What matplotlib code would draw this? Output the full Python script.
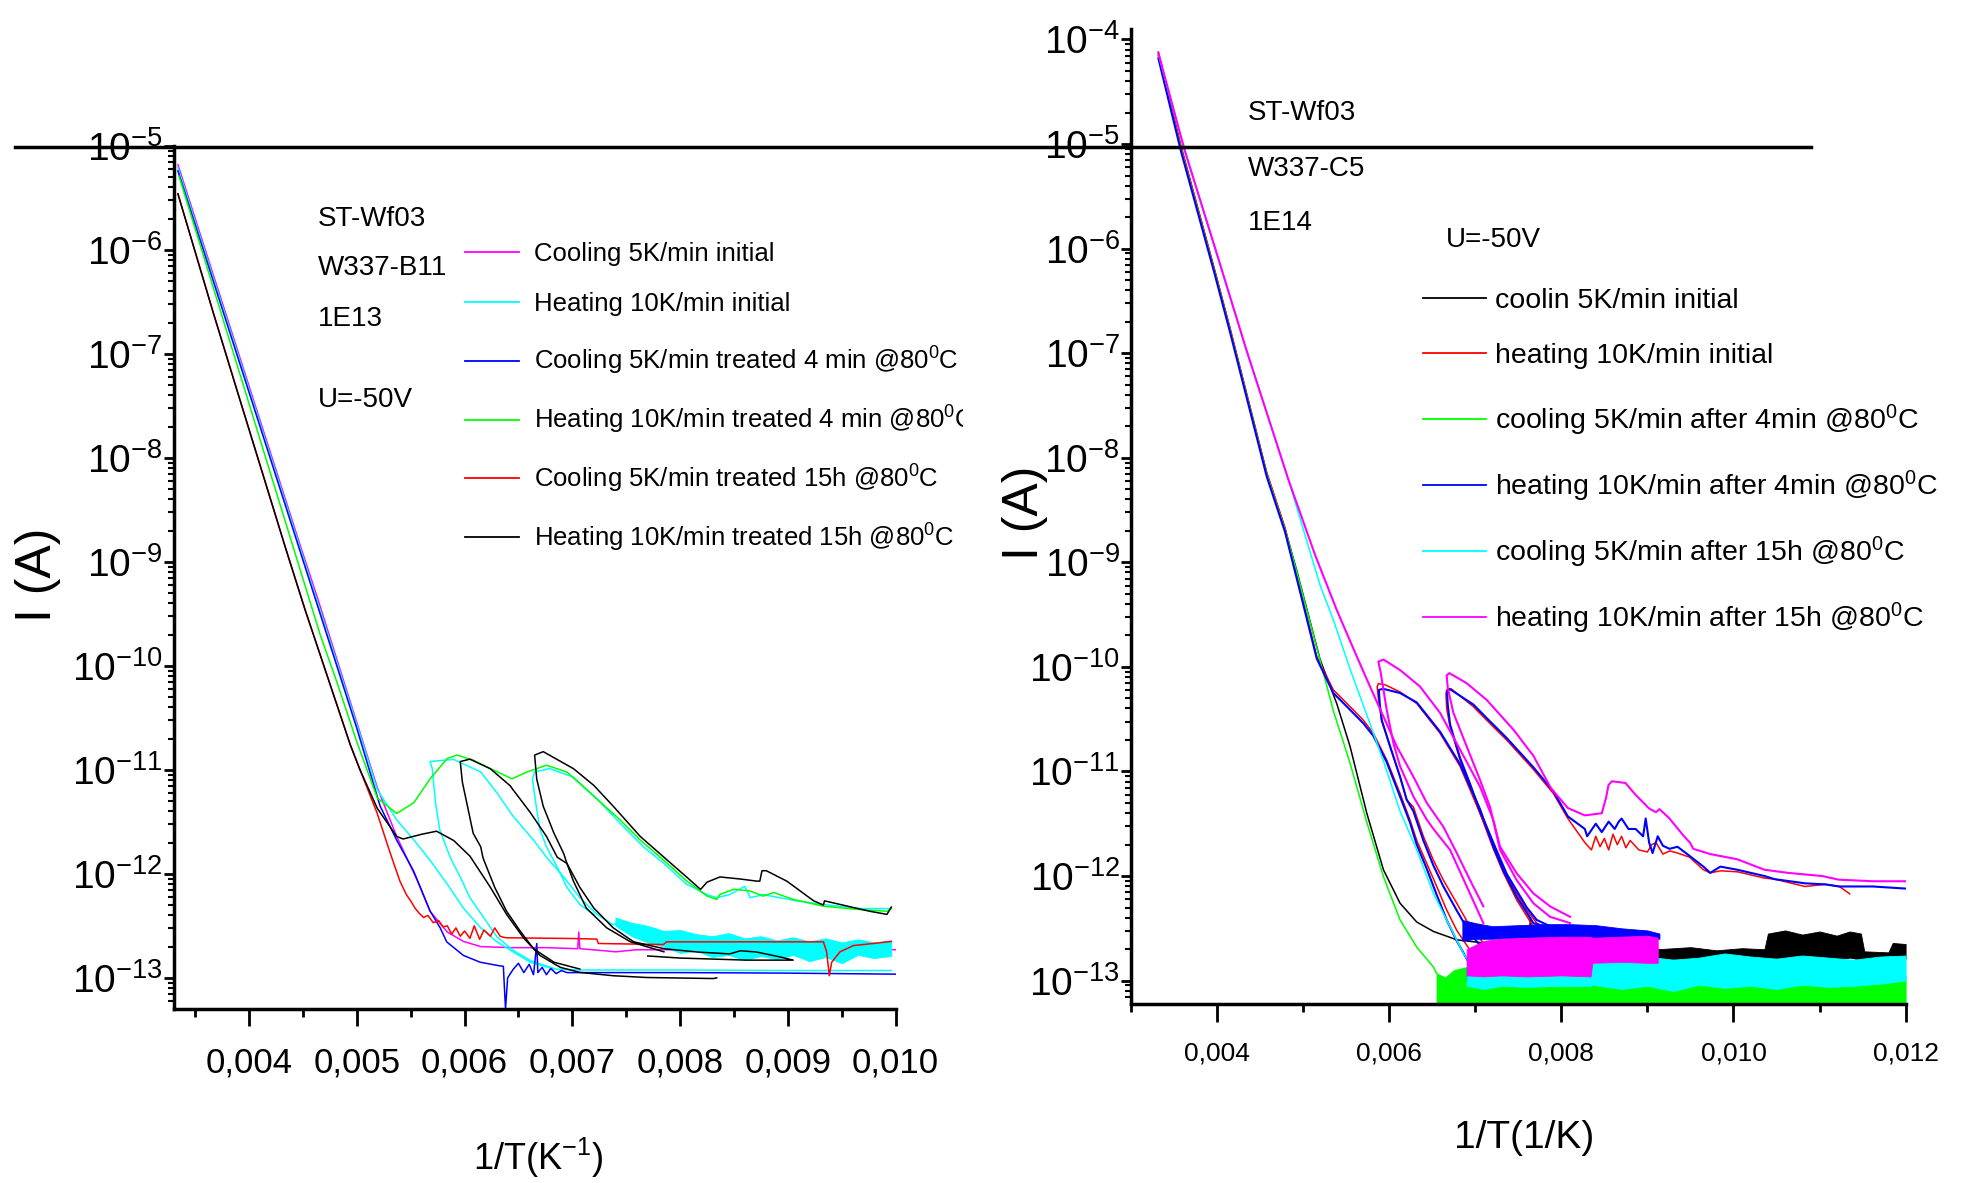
import numpy as np
import matplotlib
matplotlib.use("Agg")
import matplotlib.pyplot as plt
from matplotlib.lines import Line2D
from matplotlib.transforms import Bbox, TransformedBbox
from matplotlib.ticker import LogLocator, FixedLocator, NullFormatter

# values: (1/T in 1/K, log10 of I in A)
# every series is a list of segments, a segment is a list of points

# ---------- left plot: W337-B11, 1E13 ----------
left_magenta = [[(0.00334, -5.18), (0.00449, -8.89), (0.00463, -9.33), (0.00502, -10.61), (0.00519, -11.17),
                 (0.00537, -11.64), (0.00556, -12.06), (0.00568, -12.36), (0.00584, -12.56), (0.00599, -12.65),
                 (0.00615, -12.70), (0.00645, -12.71), (0.00676, -12.71), (0.00705, -12.72), (0.00706, -12.56),
                 (0.00707, -12.72), (0.00730, -12.74), (0.00740, -12.75), (0.00760, -12.73), (0.00850, -12.73),
                 (0.00950, -12.72), (0.01000, -12.73)]]

left_cyan = [[(0.00334, -5.21), (0.00449, -8.92), (0.00502, -10.63), (0.00519, -11.19), (0.00537, -11.48),
              (0.00553, -11.675), (0.00568, -11.87), (0.00584, -12.10), (0.00599, -12.33), (0.00615, -12.52),
              (0.00630, -12.654), (0.00645, -12.75), (0.00661, -12.85), (0.00683, -12.916), (0.00707, -12.925),
              (0.00800, -12.925), (0.00900, -12.93), (0.00996, -12.93)],
             [(0.00683, -12.91), (0.00661, -12.834), (0.00645, -12.735), (0.00630, -12.605), (0.00618, -12.425),
              (0.00605, -12.23), (0.00596, -12.03), (0.00588, -11.87), (0.00584, -11.77), (0.00577, -11.577),
              (0.00573, -11.315), (0.00570, -10.988), (0.00568, -10.92), (0.00578, -10.91), (0.00590, -10.90),
              (0.00615, -11.02), (0.00630, -11.22), (0.00645, -11.446), (0.00664, -11.675), (0.00676, -11.84),
              (0.00692, -12.03), (0.00707, -12.23), (0.00723, -12.39), (0.00738, -12.49), (0.00744, -12.46)],
             [(0.00720, -12.39), (0.00707, -12.295), (0.00695, -12.13), (0.00686, -11.936), (0.00676, -11.74),
              (0.00670, -11.577), (0.00666, -11.315), (0.00663, -11.086), (0.00665, -11.02), (0.00679, -10.988),
              (0.00701, -11.07), (0.00723, -11.28), (0.00744, -11.51), (0.00766, -11.74), (0.00785, -11.90),
              (0.00806, -12.10), (0.00825, -12.20), (0.00834, -12.23), (0.00846, -12.20), (0.00860, -12.12),
              (0.00863, -12.18), (0.00865, -12.23), (0.00877, -12.20), (0.00908, -12.26), (0.00933, -12.295),
              (0.00967, -12.334), (0.00996, -12.334)]]
# noisy part of the cyan trace: (x, upper, lower)
left_cyan_band = [(0.00740, -12.42, -12.50), (0.00755, -12.47, -12.60), (0.00770, -12.50, -12.66),
                  (0.00785, -12.55, -12.70), (0.00800, -12.54, -12.76), (0.00815, -12.58, -12.74),
                  (0.00830, -12.60, -12.80), (0.00845, -12.57, -12.78), (0.00860, -12.62, -12.83),
                  (0.00875, -12.60, -12.79), (0.00890, -12.64, -12.82), (0.00905, -12.61, -12.78),
                  (0.00920, -12.65, -12.84), (0.00935, -12.62, -12.80), (0.00950, -12.66, -12.86),
                  (0.00965, -12.63, -12.78), (0.00980, -12.66, -12.81), (0.00996, -12.64, -12.79)]

left_blue = [[(0.00334, -5.24), (0.00449, -8.95), (0.00500, -10.60), (0.005217, -11.35), (0.005372, -11.68),
              (0.005526, -11.97), (0.005681, -12.36), (0.005774, -12.52), (0.005835, -12.655), (0.00599, -12.785),
              (0.006145, -12.85), (0.00630, -12.88), (0.00636, -12.89), (0.00638, -13.30), (0.00640, -13.00),
              (0.00645, -12.92), (0.00650, -12.86), (0.00655, -12.95), (0.00660, -12.87), (0.00664, -12.97),
              (0.00667, -12.67), (0.00668, -12.95), (0.00672, -12.90), (0.00676, -12.97), (0.00680, -12.91),
              (0.00685, -12.96), (0.00690, -12.93), (0.00695, -12.95), (0.00700, -12.95), (0.00800, -12.95),
              (0.00900, -12.955), (0.01000, -12.965)]]

left_green = [[(0.00335, -5.29), (0.00466, -9.70), (0.00482, -10.17), (0.00500, -10.73), (0.00519, -11.27),
               (0.00537, -11.42), (0.00553, -11.315), (0.00568, -11.086), (0.00584, -10.89), (0.00593, -10.858),
               (0.00608, -10.907), (0.00624, -10.988), (0.00644, -11.086), (0.00658, -11.021), (0.00676, -10.955),
               (0.00695, -11.021), (0.00723, -11.282), (0.00744, -11.478), (0.00763, -11.675), (0.00785, -11.871),
               (0.00806, -12.067), (0.00825, -12.214), (0.00834, -12.246), (0.00837, -12.197), (0.00850, -12.148),
               (0.00865, -12.165), (0.00877, -12.214), (0.00887, -12.18), (0.00905, -12.246), (0.00933, -12.311),
               (0.00967, -12.344), (0.00992, -12.36), (0.00996, -12.334)]]

left_red = [[(0.00334, -5.46), (0.00367, -6.61), (0.00393, -7.49), (0.00434, -8.87), (0.00452, -9.46),
             (0.00494, -10.76), (0.00503, -11.00), (0.00519, -11.42), (0.00531, -11.80), (0.00540, -12.07),
             (0.00546, -12.20), (0.00550, -12.26), (0.00554, -12.33), (0.00558, -12.38), (0.00562, -12.42),
             (0.00566, -12.40), (0.00571, -12.47), (0.00576, -12.45), (0.00580, -12.51), (0.00584, -12.50),
             (0.00588, -12.58), (0.00592, -12.52), (0.00596, -12.60), (0.00600, -12.55), (0.00605, -12.62),
             (0.00609, -12.50), (0.00614, -12.63), (0.00618, -12.54), (0.00624, -12.60), (0.00628, -12.52),
             (0.00633, -12.60), (0.00636, -12.61), (0.00639, -12.615), (0.00700, -12.622), (0.007227, -12.628),
             (0.007242, -12.67), (0.007845, -12.68), (0.007876, -12.654), (0.00933, -12.654), (0.00936, -12.75),
             (0.009385, -12.98), (0.009407, -12.85), (0.009484, -12.75), (0.009608, -12.69), (0.009793, -12.67),
             (0.00996, -12.65)]]

left_black = [[(0.00334, -5.46), (0.00367, -6.61), (0.00393, -7.49), (0.00434, -8.87), (0.00452, -9.46),
               (0.00494, -10.76), (0.00503, -11.00), (0.00519, -11.37), (0.00537, -11.64), (0.00543, -11.665),
               (0.00560, -11.62), (0.00574, -11.59), (0.00590, -11.68), (0.00605, -11.83), (0.00624, -12.13),
               (0.00639, -12.39), (0.00655, -12.62), (0.00670, -12.785), (0.00689, -12.90), (0.00707, -12.948),
               (0.00738, -12.98), (0.00769, -12.997), (0.00831, -13.007), (0.00834, -13.00)],
              [(0.00707, -12.916), (0.00683, -12.85), (0.00664, -12.72), (0.00652, -12.556), (0.00639, -12.36),
               (0.00628, -12.13), (0.00618, -11.87), (0.00617, -11.84), (0.00615, -11.74), (0.00608, -11.61),
               (0.00602, -11.315), (0.00598, -11.12), (0.00596, -10.92), (0.00605, -10.897), (0.00624, -10.99),
               (0.00642, -11.15), (0.00661, -11.41), (0.00676, -11.64), (0.00686, -11.84), (0.00695, -11.90),
               (0.00707, -12.13), (0.00720, -12.33), (0.00738, -12.52), (0.00757, -12.654), (0.00785, -12.72),
               (0.00816, -12.752), (0.00846, -12.77), (0.00856, -12.74), (0.00871, -12.752), (0.00893, -12.80),
               (0.00905, -12.83), (0.00862, -12.83), (0.00800, -12.81), (0.00770, -12.79)],
              [(0.00785, -12.75), (0.00754, -12.654), (0.00732, -12.52), (0.00713, -12.33), (0.00701, -12.07),
               (0.00695, -11.90), (0.00692, -11.805), (0.00683, -11.61), (0.00673, -11.35), (0.00667, -11.09),
               (0.00665, -10.858), (0.00673, -10.825), (0.00701, -10.988), (0.00720, -11.15), (0.00738, -11.35),
               (0.00763, -11.64), (0.00785, -11.84), (0.00806, -12.03), (0.00819, -12.15), (0.00825, -12.08),
               (0.00837, -12.03), (0.00856, -12.05), (0.00871, -12.07), (0.00874, -12.07), (0.00876, -11.97),
               (0.00880, -11.97), (0.00899, -12.07), (0.00924, -12.26), (0.00933, -12.30), (0.00934, -12.26),
               (0.00955, -12.31), (0.00976, -12.36), (0.00992, -12.39), (0.00996, -12.32)]]

# ---------- right plot: W337-C5, 1E14 ----------
right_black = [[(0.003318, -4.15), (0.003581, -5.03), (0.003968, -6.20), (0.004151, -6.77), (0.004577, -8.15),
                (0.004790, -8.68), (0.004926, -9.08), (0.005197, -9.93), (0.005390, -10.35), (0.005545, -10.76),
                (0.005740, -11.40), (0.005933, -11.94), (0.006126, -12.26), (0.006320, -12.44), (0.006514, -12.53),
                (0.006785, -12.61), (0.00720, -12.65), (0.00725, -13.2), (0.00726, -12.66), (0.00750, -12.67),
                (0.00763, -12.66), (0.00764, -12.40), (0.00765, -12.66), (0.00800, -12.67), (0.00850, -12.68),
                (0.00912, -12.70)]]
right_black_band = [(0.00912, -12.70, -12.79), (0.00950, -12.68, -12.80), (0.00980, -12.71, -12.79),
                    (0.01010, -12.69, -12.81), (0.01036, -12.70, -12.79), (0.01040, -12.55, -12.80),
                    (0.01060, -12.52, -12.78), (0.01080, -12.56, -12.81), (0.01100, -12.53, -12.79),
                    (0.01120, -12.57, -12.80), (0.01135, -12.53, -12.78), (0.01148, -12.55, -12.80),
                    (0.01152, -12.72, -12.79), (0.01180, -12.73, -12.80), (0.01185, -12.64, -12.78),
                    (0.01200, -12.65, -12.79)]

right_red = [[(0.003318, -4.12), (0.003581, -5.02), (0.003968, -6.19), (0.004151, -6.76), (0.004577, -8.14),
              (0.004790, -8.67), (0.004964, -9.26), (0.005158, -9.90), (0.005351, -10.22), (0.005545, -10.38),
              (0.005700, -10.51), (0.005816, -10.635), (0.005971, -10.89), (0.006126, -11.21), (0.006242, -11.464),
              (0.006320, -11.66), (0.006436, -11.88), (0.006552, -12.10), (0.006668, -12.325), (0.006785, -12.52),
              (0.006940, -12.71), (0.007094, -12.80)],
             [(0.007094, -12.64), (0.006940, -12.485), (0.006785, -12.26), (0.006630, -12.04), (0.006514, -11.85),
              (0.006397, -11.62), (0.006281, -11.34), (0.006203, -11.27), (0.006126, -11.05), (0.006010, -10.76),
              (0.005913, -10.51), (0.005874, -10.30), (0.005860, -10.19), (0.005874, -10.16), (0.005950, -10.17),
              (0.006126, -10.24), (0.006320, -10.35), (0.006591, -10.635), (0.006823, -10.95), (0.007055, -11.40),
              (0.007210, -11.74), (0.007327, -11.97), (0.007482, -12.23), (0.007675, -12.485), (0.007869, -12.58),
              (0.008101, -12.64)],
             [(0.008101, -12.55), (0.007869, -12.52), (0.007714, -12.45), (0.007598, -12.325), (0.007482, -12.166),
              (0.007366, -12.006), (0.007250, -11.78), (0.007133, -11.55), (0.007055, -11.40), (0.006940, -11.145),
              (0.006823, -10.89), (0.006707, -10.57), (0.006668, -10.40), (0.006660, -10.26), (0.006668, -10.22),
              (0.006720, -10.21), (0.006978, -10.38), (0.007133, -10.51), (0.007365, -10.70), (0.007675, -10.98),
              (0.007907, -11.21), (0.008076, -11.45), (0.008273, -11.68), (0.00835, -11.75), (0.00840, -11.62),
              (0.00845, -11.72), (0.00850, -11.64), (0.00855, -11.75), (0.00860, -11.60), (0.00865, -11.70),
              (0.00870, -11.62), (0.00875, -11.73), (0.00880, -11.66), (0.00890, -11.75), (0.00900, -11.77),
              (0.00905, -11.70), (0.00910, -11.68), (0.00918, -11.79), (0.00926, -11.76), (0.00935, -11.78),
              (0.00949, -11.82), (0.00965, -11.94), (0.00973, -11.97), (0.00985, -11.95), (0.01005, -11.96),
              (0.01036, -12.02), (0.01048, -12.03), (0.01083, -12.10), (0.01107, -12.08), (0.01123, -12.10),
              (0.01135, -12.17)]]

right_green = [[(0.003318, -4.16), (0.003581, -5.05), (0.003968, -6.21), (0.004151, -6.78), (0.004577, -8.16),
                (0.004790, -8.69), (0.004926, -9.09), (0.005197, -9.94), (0.005351, -10.42), (0.005545, -10.92),
                (0.005738, -11.48), (0.005933, -12.006), (0.006126, -12.42), (0.006320, -12.68), (0.006514, -12.87),
                (0.006550, -12.93)]]
right_green_band = [(0.00655, -12.93, -13.4), (0.00665, -12.97, -13.4), (0.00675, -12.90, -13.4),
                    (0.00690, -12.87, -13.4), (0.00700, -12.98, -13.4), (0.00710, -13.04, -13.4),
                    (0.00725, -12.98, -13.4), (0.00740, -13.02, -13.4), (0.00760, -13.00, -13.4),
                    (0.00780, -13.03, -13.4), (0.00800, -12.98, -13.4), (0.00830, -13.02, -13.4),
                    (0.00860, -13.00, -13.4), (0.00890, -12.97, -13.4), (0.00920, -13.03, -13.4),
                    (0.00950, -13.00, -13.4), (0.00980, -12.98, -13.4), (0.01010, -13.02, -13.4),
                    (0.01040, -13.00, -13.4), (0.01070, -12.97, -13.4), (0.01100, -13.01, -13.4),
                    (0.01130, -12.99, -13.4), (0.01160, -12.98, -13.4), (0.01200, -12.95, -13.4)]

right_blue = [[(0.003318, -4.18), (0.003581, -5.07), (0.003968, -6.23), (0.004151, -6.80), (0.004577, -8.18),
               (0.004790, -8.71), (0.004964, -9.28), (0.005158, -9.92), (0.005351, -10.25), (0.005545, -10.41),
               (0.005700, -10.54), (0.005816, -10.66), (0.005971, -10.91), (0.006126, -11.24), (0.006242, -11.49),
               (0.006320, -11.70), (0.006436, -11.93), (0.006552, -12.18), (0.006668, -12.42), (0.006785, -12.62),
               (0.006940, -12.85), (0.007094, -12.93)],
              [(0.007094, -12.70), (0.006940, -12.55), (0.006785, -12.33), (0.006630, -12.10), (0.006514, -11.90),
               (0.006397, -11.66), (0.006281, -11.38), (0.006203, -11.27), (0.006126, -11.05), (0.006010, -10.76),
               (0.005913, -10.51), (0.005890, -10.35), (0.005880, -10.22), (0.005930, -10.21), (0.006126, -10.25),
               (0.006320, -10.34), (0.006591, -10.62), (0.006823, -10.93), (0.007055, -11.36), (0.007210, -11.72),
               (0.007327, -11.95), (0.007482, -12.20), (0.007675, -12.45), (0.007869, -12.50), (0.008101, -12.48)],
              [(0.008101, -12.50), (0.007869, -12.48), (0.007714, -12.42), (0.007598, -12.30), (0.007482, -12.14),
               (0.007366, -11.98), (0.007250, -11.76), (0.007133, -11.53), (0.007055, -11.38), (0.006940, -11.12),
               (0.006823, -10.87), (0.006707, -10.55), (0.006680, -10.36), (0.006672, -10.24), (0.006700, -10.21),
               (0.006978, -10.36), (0.007133, -10.49), (0.007365, -10.68), (0.007675, -10.96), (0.007907, -11.19),
               (0.008076, -11.43), (0.008273, -11.55), (0.00830, -11.62), (0.00840, -11.50), (0.00847, -11.58),
               (0.00855, -11.48), (0.00862, -11.55), (0.008667, -11.48), (0.00870, -11.45), (0.00878, -11.55),
               (0.008863, -11.55), (0.00895, -11.62), (0.00898, -11.45), (0.00902, -11.68), (0.00906, -11.78),
               (0.00912, -11.62), (0.00918, -11.71), (0.009257, -11.74), (0.00935, -11.72), (0.009494, -11.81),
               (0.009651, -11.91), (0.00973, -11.97), (0.009848, -11.91), (0.010045, -11.94), (0.01036, -12.00),
               (0.010478, -12.03), (0.010833, -12.07), (0.011069, -12.08), (0.011226, -12.10), (0.01162, -12.10),
               (0.01200, -12.12)]]
right_blue_band = [(0.00685, -12.42, -12.62), (0.00700, -12.45, -12.60), (0.00720, -12.48, -12.60),
                   (0.00750, -12.47, -12.59), (0.00780, -12.46, -12.59), (0.00810, -12.46, -12.59),
                   (0.00840, -12.47, -12.60), (0.00870, -12.50, -12.60), (0.00900, -12.52, -12.60),
                   (0.00914, -12.55, -12.60)]
right_blue_band_low = [(0.00690, -12.88, -13.00), (0.00720, -12.91, -13.02), (0.00750, -12.92, -13.03),
                       (0.00800, -12.92, -13.04), (0.00836, -12.93, -13.04)]

right_cyan = [[(0.003318, -4.14), (0.003620, -5.05), (0.003968, -5.98), (0.004345, -6.98), (0.004829, -8.21),
               (0.005197, -9.22), (0.005351, -9.55), (0.005545, -10.02), (0.005740, -10.46), (0.005933, -10.90),
               (0.006126, -11.38), (0.006320, -11.75), (0.006514, -12.166), (0.006707, -12.485), (0.006862, -12.74),
               (0.007017, -12.93), (0.007100, -12.98)]]
right_cyan_band = [(0.00690, -12.80, -13.05), (0.00710, -12.92, -13.08), (0.00730, -12.93, -13.05),
                   (0.00760, -12.95, -13.06), (0.00800, -12.95, -13.05), (0.00834, -12.95, -13.05),
                   (0.00836, -12.76, -13.04), (0.00870, -12.78, -13.08), (0.00900, -12.77, -13.05),
                   (0.00930, -12.80, -13.10), (0.00960, -12.78, -13.04), (0.00990, -12.74, -13.07),
                   (0.01020, -12.77, -13.05), (0.01050, -12.79, -13.08), (0.01080, -12.76, -13.04),
                   (0.01110, -12.78, -13.06), (0.01140, -12.80, -13.05), (0.01170, -12.77, -13.03),
                   (0.01200, -12.76, -13.00)]

right_magenta = [[(0.003318, -4.13), (0.003620, -5.05), (0.003968, -5.97), (0.004345, -6.98), (0.004829, -8.21),
                  (0.005139, -8.93), (0.005390, -9.455), (0.005623, -9.90), (0.005778, -10.19), (0.005933, -10.475),
                  (0.006087, -10.76), (0.006281, -11.05), (0.006436, -11.30), (0.006630, -11.53), (0.006785, -11.78),
                  (0.006940, -12.04), (0.007094, -12.29)],
                 [(0.007094, -12.45), (0.006901, -12.10), (0.006707, -11.75), (0.006514, -11.55), (0.006436, -11.46),
                  (0.006281, -11.24), (0.006126, -10.95), (0.006049, -10.73), (0.005971, -10.41), (0.005900, -10.05),
                  (0.005874, -9.95), (0.005933, -9.93), (0.006126, -10.03), (0.006358, -10.188), (0.006591, -10.44),
                  (0.006823, -10.79), (0.007055, -11.145), (0.007210, -11.464), (0.007288, -11.72), (0.007482, -11.975),
                  (0.007675, -12.166), (0.007869, -12.29), (0.008101, -12.39)],
                 [(0.008101, -12.45), (0.007869, -12.39), (0.007675, -12.26), (0.007482, -12.04), (0.007288, -11.75),
                  (0.007172, -11.34), (0.007055, -11.08), (0.006900, -10.76), (0.006746, -10.44), (0.006680, -10.20),
                  (0.006668, -10.08), (0.006700, -10.06), (0.006900, -10.156), (0.007133, -10.316), (0.007443, -10.60),
                  (0.007675, -10.85), (0.007879, -11.16), (0.008076, -11.35), (0.008273, -11.42), (0.008470, -11.40),
                  (0.008520, -11.25), (0.008548, -11.13), (0.008588, -11.094), (0.008745, -11.11), (0.008863, -11.224),
                  (0.009020, -11.354), (0.009100, -11.39), (0.009140, -11.36), (0.009257, -11.45), (0.009415, -11.61),
                  (0.009494, -11.68), (0.009533, -11.74), (0.009730, -11.79), (0.010045, -11.84), (0.010360, -11.94),
                  (0.010636, -11.97), (0.011029, -12.00), (0.011226, -12.035), (0.011620, -12.05), (0.012000, -12.05)]]
right_magenta_band = [(0.00690, -12.70, -12.95), (0.00710, -12.62, -12.96), (0.00730, -12.60, -12.95),
                      (0.00760, -12.59, -12.96), (0.00800, -12.58, -12.95), (0.00834, -12.58, -12.96),
                      (0.00836, -12.59, -12.83), (0.00870, -12.58, -12.82), (0.00900, -12.57, -12.83),
                      (0.00912, -12.59, -12.83)]

# ---------- axes and texts ----------
left_y_exp = [-5, -6, -7, -8, -9, -10, -11, -12, -13]
right_y_exp = [-4, -5, -6, -7, -8, -9, -10, -11, -12, -13]
left_x_ticks = [0.004, 0.005, 0.006, 0.007, 0.008, 0.009, 0.010]
left_x_labels = ["0,004", "0,005", "0,006", "0,007", "0,008", "0,009", "0,010"]
left_x_minor = [0.0035, 0.0045, 0.0055, 0.0065, 0.0075, 0.0085, 0.0095]
right_x_ticks = [0.004, 0.006, 0.008, 0.010, 0.012]
right_x_labels = ["0,004", "0,006", "0,008", "0,010", "0,012"]
right_x_minor = [0.003, 0.005, 0.007, 0.009, 0.011]

left_info = ["ST-Wf03", "W337-B11", "1E13", "U=-50V"]
right_info = ["ST-Wf03", "W337-C5", "1E14"]
left_labels = ["Cooling 5K/min initial", "Heating 10K/min initial",
               "Cooling 5K/min treated 4 min @80$^0$C", "Heating 10K/min treated 4 min @80$^0$C",
               "Cooling 5K/min treated 15h @80$^0$C", "Heating 10K/min treated 15h @80$^0$C"]
left_colors = ["#ff00ff", "#00ffff", "#0000ff", "#00ff00", "#ff0000", "#000000"]
right_labels = ["coolin 5K/min initial", "heating 10K/min initial",
                "cooling 5K/min after 4min @80$^0$C", "heating 10K/min after 4min @80$^0$C",
                "cooling 5K/min after 15h @80$^0$C", "heating 10K/min after 15h @80$^0$C"]
right_colors = ["#000000", "#ff0000", "#00ff00", "#0000ff", "#00ffff", "#ff00ff"]

plt.rcParams["font.family"] = ["Liberation Sans", "DejaVu Sans"]
plt.rcParams["mathtext.fontset"] = "custom"
plt.rcParams["mathtext.rm"] = "Liberation Sans"
plt.rcParams["mathtext.it"] = "Liberation Sans"
plt.rcParams["mathtext.default"] = "rm"

W, H = 1962, 1183
fig = plt.figure(figsize=(W / 100, H / 100), dpi=100)


def fx(px):
    return px / W


def fy(py):
    return 1 - py / H


ax1 = fig.add_axes([fx(173.6), fy(1009), fx(895.6) - fx(173.6), fy(146) - fy(1009)])
ax2 = fig.add_axes([fx(1131), fy(1003.6), fx(1905.6) - fx(1131), fy(29) - fy(1003.6)])


# lines and noise bands share one zorder so they stack in the order drawn
def draw(ax, segs, color, lw=1.1):
    for seg in segs:
        xs, ly = zip(*seg)
        ax.plot(xs, 10.0 ** np.array(ly), color=color, lw=lw, zorder=2)


def band(ax, pts, color):
    xs, top, bot = zip(*pts)
    ax.fill_between(xs, 10.0 ** np.array(bot), 10.0 ** np.array(top), facecolor=color, edgecolor=color,
                    lw=0.6, zorder=2)


# left, drawn in legend order
draw(ax1, left_magenta, left_colors[0])
draw(ax1, left_cyan, left_colors[1])
band(ax1, left_cyan_band, left_colors[1])
draw(ax1, left_blue, left_colors[2])
draw(ax1, left_green, left_colors[3])
draw(ax1, left_red, left_colors[4])
draw(ax1, left_black, left_colors[5])

# right
draw(ax2, right_black, right_colors[0])
band(ax2, right_black_band, right_colors[0])
draw(ax2, right_red, right_colors[1])
draw(ax2, right_green, right_colors[2])
band(ax2, right_green_band, right_colors[2])
draw(ax2, right_blue, right_colors[3], lw=1.5)
band(ax2, right_blue_band, right_colors[3])
band(ax2, right_blue_band_low, right_colors[3])
draw(ax2, right_cyan, right_colors[4])
band(ax2, right_cyan_band, right_colors[4])
draw(ax2, right_magenta, right_colors[5], lw=1.5)
band(ax2, right_magenta_band, right_colors[5])

for ax in (ax1, ax2):
    ax.set_yscale("log")
    ax.patch.set_alpha(0)
    ax.spines["top"].set_visible(False)
    ax.spines["right"].set_visible(False)
    ax.spines["left"].set_linewidth(2.5)
    ax.spines["bottom"].set_linewidth(2.5)
    ax.yaxis.set_minor_locator(LogLocator(base=10, subs=np.arange(2, 10), numticks=40))
    ax.yaxis.set_minor_formatter(NullFormatter())
    ax.tick_params(axis="y", which="major", direction="out", length=7, width=2.0, pad=1, labelsize=28)
    ax.tick_params(axis="y", which="minor", direction="out", length=4, width=1.5)
    ax.tick_params(axis="x", which="major", direction="out", length=12, width=2.0)
    ax.tick_params(axis="x", which="minor", direction="out", length=6, width=2.0)

ax1.set_xlim(0.0033, 0.010)
ax1.set_ylim(10 ** -13.3, 1e-5)
ax1.set_yticks([10.0 ** e for e in left_y_exp])
ax1.set_yticklabels(["$10^{%d}$" % e for e in left_y_exp])
ax1.set_xticks(left_x_ticks)
ax1.set_xticklabels(left_x_labels)
ax1.xaxis.set_minor_locator(FixedLocator(left_x_minor))
ax1.tick_params(axis="x", which="major", labelsize=25, pad=15)

ax2.set_xlim(0.003, 0.012)
ax2.set_ylim(10 ** -13.22, 10 ** -3.9)
ax2.set_yticks([10.0 ** e for e in right_y_exp])
ax2.set_yticklabels(["$10^{%d}$" % e for e in right_y_exp])
ax2.set_xticks(right_x_ticks)
ax2.set_xticklabels(right_x_labels)
ax2.xaxis.set_minor_locator(FixedLocator(right_x_minor))
ax2.tick_params(axis="x", which="major", labelsize=19, length=13, pad=14)

# long line across the whole picture (top frame of the left plot)
fig.add_artist(Line2D([fx(15), fx(1811)], [fy(146.5), fy(146.5)], transform=fig.transFigure,
                      color="black", lw=2.5))

# sample info
for txt, py in zip(left_info, [219, 268, 319, 400]):
    fig.text(fx(318), fy(py), txt, fontsize=20, ha="left", va="center")
for txt, py in zip(right_info, [113, 169, 223]):
    fig.text(fx(1248), fy(py), txt, fontsize=20, ha="left", va="center")
fig.text(fx(1446), fy(240), "U=-50V", fontsize=20, ha="left", va="center")

# hand made legends
clip = TransformedBbox(Bbox.from_extents(0, 0, fx(963), 1), fig.transFigure)


def legend(labels, colors, rows, x0, x1, xt, size, cut=False):
    for lab, c, py in zip(labels, colors, rows):
        fig.add_artist(Line2D([fx(x0), fx(x1)], [fy(py), fy(py)], transform=fig.transFigure, color=c, lw=1.3))
        t = fig.text(fx(xt), fy(py) - 0.36 * size * 100 / 72 / H, lab, fontsize=size, ha="left", va="baseline")
        if cut:
            t.set_clip_box(clip)
            t.set_clip_on(True)


legend(left_labels, left_colors, [252, 302, 360.5, 419.5, 478, 537], 465, 519, 534, 18.5, cut=True)
legend(right_labels, right_colors, [297.6, 352.8, 419.2, 485.2, 551.2, 617.1], 1423, 1486, 1495, 20.5)

# axis titles
fig.text(fx(38), fy(575), "I (A)", rotation=90, fontsize=36, ha="center", va="center")
fig.text(fx(1025), fy(513), "I (A)", rotation=90, fontsize=36, ha="center", va="center")
fig.text(fx(538), fy(1158), "1/T(K$^{-1}$)", fontsize=26, ha="center", va="center")
fig.text(fx(1524), fy(1138), "1/T(1/K)", fontsize=28, ha="center", va="center")

fig.savefig("out.png", dpi=100)
